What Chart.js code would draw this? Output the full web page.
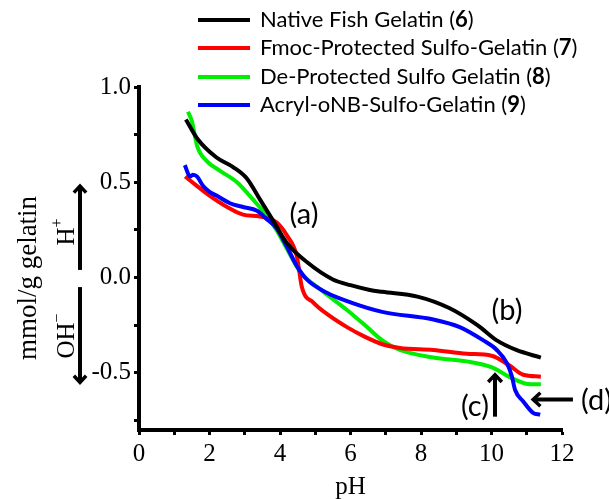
<!DOCTYPE html>
<html>
<head>
<meta charset="utf-8">
<script src="https://cdn.jsdelivr.net/npm/chart.js@4.4.1/dist/chart.umd.min.js"></script>
<style>
  html, body { margin: 0; padding: 0; background: #fff; }
  #wrap { width: 609px; height: 499px; }
</style>
</head>
<body>
<div id="wrap"><canvas id="titrationChart" width="609" height="499"></canvas></div>
<script>
// series labels (number in brackets drawn bold in the legend)
var seriesNames = ['Native Fish Gelatin', 'Fmoc-Protected Sulfo-Gelatin', 'De-Protected Sulfo Gelatin', 'Acryl-oNB-Sulfo-Gelatin'];
var seriesNumbers = ['6', '7', '8', '9'];
var seriesColors = ['#000000', '#ff0000', '#00ee00', '#0000ff'];

// Native Fish Gelatin (6)
var nativePH  = [1.33, 1.65, 2.2, 2.67, 3.06, 3.43, 3.8, 4.2, 4.77, 5.5, 6.0, 6.55, 6.9, 7.9, 8.8, 9.6, 10.15, 10.7, 11.4];
var nativeVal = [0.83, 0.73, 0.63, 0.58, 0.52, 0.41, 0.30, 0.18, 0.08, -0.01, -0.04, -0.065, -0.075, -0.10, -0.16, -0.25, -0.33, -0.38, -0.42];

// Fmoc-Protected Sulfo-Gelatin (7)
var fmocPH  = [1.31, 1.65, 2.0, 2.5, 2.95, 3.43, 3.9, 4.2, 4.48, 4.62, 4.94, 5.4, 5.9, 6.4, 6.9, 7.4, 8.35, 9.3, 10.0, 10.5, 10.9, 11.4];
var fmocVal = [0.53, 0.48, 0.43, 0.37, 0.33, 0.32, 0.29, 0.22, 0.11, -0.05, -0.13, -0.20, -0.26, -0.31, -0.35, -0.37, -0.38, -0.40, -0.41, -0.46, -0.51, -0.52];

// De-Protected Sulfo Gelatin (8)
var deprotPH  = [1.39, 1.5, 1.65, 1.93, 2.3, 2.78, 3.23, 3.6, 3.9, 4.2, 4.57, 5.13, 5.9, 6.47, 6.9, 7.4, 8.35, 9.3, 10.0, 10.6, 11.1, 11.4];
var deprotVal = [0.87, 0.82, 0.69, 0.61, 0.56, 0.50, 0.41, 0.33, 0.25, 0.15, 0.03, -0.06, -0.17, -0.26, -0.33, -0.38, -0.42, -0.44, -0.47, -0.53, -0.56, -0.56];

// Acryl-oNB-Sulfo-Gelatin (9)
var acrylPH  = [1.3, 1.45, 1.53, 1.65, 1.82, 2.0, 2.2, 2.58, 2.95, 3.35, 3.6, 3.9, 4.2, 4.48, 4.76, 5.33, 6.0, 6.9, 8.35, 9.1, 9.77, 10.15, 10.44, 10.58, 10.67, 10.9, 11.18, 11.38];
var acrylVal = [0.59, 0.53, 0.54, 0.53, 0.48, 0.45, 0.43, 0.39, 0.37, 0.35, 0.31, 0.26, 0.16, 0.06, -0.01, -0.08, -0.13, -0.18, -0.22, -0.26, -0.33, -0.38, -0.45, -0.52, -0.59, -0.65, -0.71, -0.72];

// axis ticks
var xTicks = [0, 1, 2, 3, 4, 5, 6, 7, 8, 9, 10, 11, 12];
var yTicks = [-0.75, -0.5, -0.25, 0, 0.25, 0.5, 0.75, 1.0];

function toPoints(xs, ys) {
    return xs.map(function (x, i) { return { x: x, y: ys[i] }; });
}

var seriesData = [
    toPoints(nativePH, nativeVal),
    toPoints(fmocPH, fmocVal),
    toPoints(deprotPH, deprotVal),
    toPoints(acrylPH, acrylVal)
];
var drawOrder = [0, 2, 3, 1]; // black on top, blue above red/green

var serif = '"Liberation Serif", "Times New Roman", serif';
var sans = 'Lato, "Open Sans", sans-serif';

// decorations drawn after the chart: titles, H+/OH- arrows, (a)-(d) labels, legend
var overlayPlugin = {
    id: 'overlay',
    afterDraw: function (chart) {
        var ctx = chart.ctx;
        var xs = chart.scales.x, ys = chart.scales.y;
        ctx.save();
        ctx.fillStyle = '#000';
        ctx.strokeStyle = '#000';

        // axis titles
        ctx.font = '25px ' + serif;
        ctx.textAlign = 'center';
        ctx.textBaseline = 'middle';
        ctx.fillText('pH', (xs.left + xs.right) / 2, 487);
        ctx.save();
        ctx.translate(29, 278);
        ctx.rotate(-Math.PI / 2);
        ctx.font = '27px ' + serif;
        ctx.fillText('mmol/g gelatin', 0, 0);
        ctx.restore();

        // H+ / OH- labels
        function rotatedIon(base, sup, cx, cy) {
            ctx.save();
            ctx.translate(cx, cy);
            ctx.rotate(-Math.PI / 2);
            ctx.font = '25px ' + serif;
            var wb = ctx.measureText(base).width;
            ctx.font = '16px ' + serif;
            var ws = ctx.measureText(sup).width;
            var start = -(wb + ws) / 2;
            ctx.textAlign = 'left';
            ctx.textBaseline = 'alphabetic';
            ctx.font = '25px ' + serif;
            ctx.fillText(base, start, 8);
            ctx.font = '16px ' + serif;
            ctx.fillText(sup, start + wb, -4);
            ctx.restore();
        }
        rotatedIon('H', '+', 66, 232);
        rotatedIon('OH', '\u2212', 66, 336);

        function arrow(x1, y1, x2, y2, head) {
            ctx.lineWidth = 4;
            ctx.lineCap = 'butt';
            ctx.beginPath();
            ctx.moveTo(x1, y1);
            ctx.lineTo(x2, y2);
            ctx.stroke();
            var ang = Math.atan2(y2 - y1, x2 - x1);
            ctx.lineWidth = 3.5;
            ctx.beginPath();
            ctx.moveTo(x2 - head * Math.cos(ang - 0.75), y2 - head * Math.sin(ang - 0.75));
            ctx.lineTo(x2, y2);
            ctx.lineTo(x2 - head * Math.cos(ang + 0.75), y2 - head * Math.sin(ang + 0.75));
            ctx.stroke();
        }
        arrow(80, ys.getPixelForValue(0.04), 80, ys.getPixelForValue(0.48), 9);
        arrow(80, ys.getPixelForValue(-0.05), 80, ys.getPixelForValue(-0.55), 9);

        // annotation labels, placed in data units
        ctx.font = '29px ' + sans;
        ctx.textAlign = 'center';
        ctx.textBaseline = 'middle';
        ctx.fillText('(a)', xs.getPixelForValue(4.68), ys.getPixelForValue(0.33));
        ctx.fillText('(b)', xs.getPixelForValue(10.44), ys.getPixelForValue(-0.175));
        ctx.fillText('(c)', xs.getPixelForValue(9.53), ys.getPixelForValue(-0.68));
        ctx.fillText('(d)', xs.getPixelForValue(12.98), ys.getPixelForValue(-0.645));
        arrow(xs.getPixelForValue(10.1), ys.getPixelForValue(-0.73), xs.getPixelForValue(10.1), ys.getPixelForValue(-0.51), 10);
        arrow(xs.getPixelForValue(12.31), ys.getPixelForValue(-0.64), xs.getPixelForValue(11.18), ys.getPixelForValue(-0.64), 10);

        // legend
        var rowY = [20, 48, 77, 105];
        ctx.textAlign = 'left';
        seriesNames.forEach(function (name, i) {
            ctx.strokeStyle = seriesColors[i];
            ctx.lineWidth = 4;
            ctx.beginPath();
            ctx.moveTo(198, rowY[i]);
            ctx.lineTo(250, rowY[i]);
            ctx.stroke();
            var x = 260;
            ctx.fillStyle = '#000';
            ctx.font = '22px ' + sans;
            var t1 = name + ' (';
            ctx.fillText(t1, x, rowY[i]);
            x += ctx.measureText(t1).width;
            ctx.font = 'bold 22px ' + sans;
            ctx.fillText(seriesNumbers[i], x, rowY[i]);
            x += ctx.measureText(seriesNumbers[i]).width;
            ctx.font = '22px ' + sans;
            ctx.fillText(')', x, rowY[i]);
        });
        ctx.restore();
    }
};

var ctxChart = document.getElementById('titrationChart').getContext('2d');
var chart = new Chart(ctxChart, {
    type: 'line',
    data: {
        datasets: seriesNames.map(function (name, i) {
            return {
                label: name + ' (' + seriesNumbers[i] + ')',
                data: seriesData[i],
                borderColor: seriesColors[i],
                borderWidth: 4,
                pointRadius: 0,
                fill: false,
                cubicInterpolationMode: 'monotone',
                order: drawOrder[i]
            };
        })
    },
    plugins: [overlayPlugin],
    options: {
        responsive: false,
        animation: false,
        layout: { padding: { left: 0, top: 87, right: 47, bottom: 0 } },
        plugins: {
            legend: { display: false },
            tooltip: { enabled: false }
        },
        scales: {
            x: {
                type: 'linear',
                min: 0,
                max: 12,
                afterFit: function (scale) { scale.height = 69; },
                afterBuildTicks: function (scale) {
                    scale.ticks = xTicks.map(function (v) { return { value: v }; });
                },
                ticks: {
                    color: '#000',
                    font: { family: serif, size: 25 },
                    padding: 4,
                    maxRotation: 0,
                    autoSkip: false,
                    callback: function (v) { return v % 2 === 0 ? String(v) : ''; }
                },
                grid: { drawOnChartArea: false, drawTicks: true, tickLength: 5, tickWidth: 3, tickColor: '#000' },
                border: { display: true, width: 4, color: '#000' }
            },
            y: {
                type: 'linear',
                min: -0.8,
                max: 1.0,
                afterFit: function (scale) { scale.width = 139; },
                afterBuildTicks: function (scale) {
                    scale.ticks = yTicks.map(function (v) { return { value: v }; });
                },
                ticks: {
                    color: '#000',
                    font: { family: serif, size: 25 },
                    padding: 3,
                    autoSkip: false,
                    callback: function (v) { return Math.abs(v * 2 - Math.round(v * 2)) < 1e-6 ? v.toFixed(1) : ''; }
                },
                grid: { drawOnChartArea: false, drawTicks: true, tickLength: 5, tickWidth: 3, tickColor: '#000' },
                border: { display: true, width: 4, color: '#000' }
            }
        }
    }
});
</script>
</body>
</html>
